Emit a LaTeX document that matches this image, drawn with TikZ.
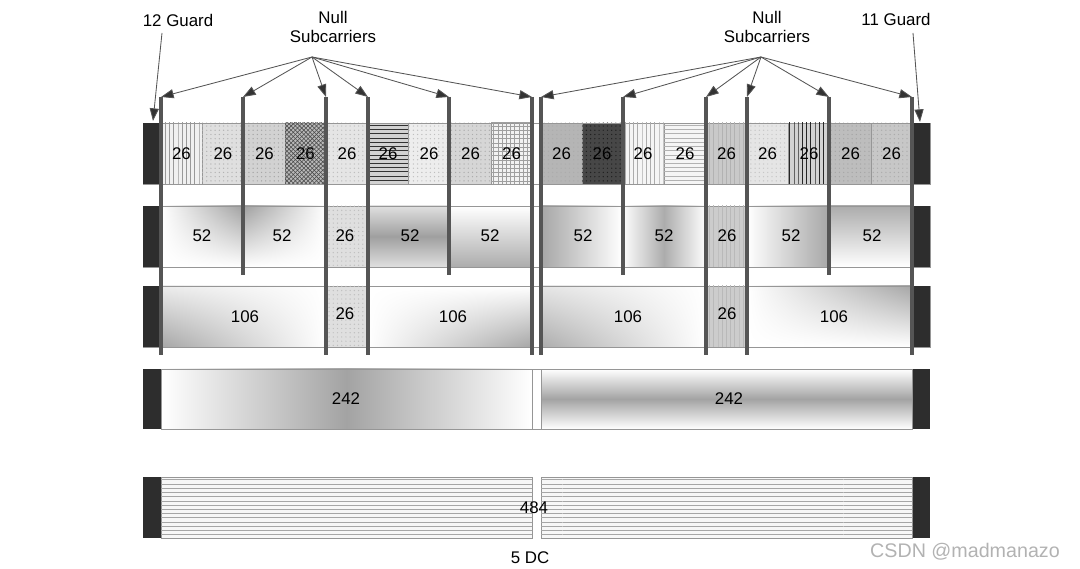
\documentclass[tikz,border=0pt]{standalone}
\usepackage{fontspec}
\setmainfont{Liberation Sans}
\usetikzlibrary{arrows.meta, patterns, shadings}
\definecolor{RUGuard}{RGB}{45, 45, 45}
\definecolor{RULine}{RGB}{85, 85, 85}
\definecolor{RUEdge}{RGB}{150, 150, 150}

\tikzset{
  ru/.style={draw=RUEdge, line width=0.5pt},
  guard/.style={fill=RUGuard},
  nullline/.style={draw=RULine, line width=3pt},
  nullarrow/.style={draw=RULine, line width=0.6pt, -{Triangle[length=9pt, width=6.5pt, fill=black!80]}},
  lbl/.style={font=\fontsize{12}{13.5}\selectfont, inner sep=1pt},
}

\begin{document}
\begin{tikzpicture}[x=0.025cm, y=-0.025cm]
  \useasboundingbox (0,0) rectangle (1080,569);

  % row frames and guard bands
  \foreach \ya/\yb in {123/184, 206/267, 286/347}
    \draw[ru] (143,\ya) rectangle (930,\yb);
  \foreach \ya/\yb in {123/184, 206/267, 286/347, 369/429, 477/538} {
    \fill[guard] (143,\ya) rectangle (161,\yb);
    \fill[guard] (912,\ya) rectangle (930,\yb);
  }

  % 26-tone RUs
  \foreach \xa/\xb/\fcol/\pat/\pcol [count=\i] in {
      161/202/gray!12/vertical lines/gray!80,
      202/244/gray!25/dots/gray!60,
      244/285/gray!35/dots/gray!70,
      285/326/gray!55/crosshatch/black!70,
      326/368/gray!20/dots/gray!50,
      368/408/gray!35/horizontal lines/black!80,
      408/450/gray!14/dots/gray!50,
      450/491/gray!32/dots/gray!65,
      491/532/gray!10/grid/gray!75,
      541/582/gray!58/dots/gray!65,
      582/622/black!72/dots/black!88,
      622/664/gray!8/vertical lines/gray!65,
      664/706/gray!8/horizontal lines/gray!60,
      706/747/gray!42/vertical lines/gray!60,
      747/788/gray!20/dots/gray!45,
      788/830/gray!35/vertical lines/black!85,
      830/871/gray!52/dots/gray!70,
      871/912/gray!44/dots/gray!65}
    \filldraw[ru, fill=\fcol, postaction={pattern=\pat, pattern color=\pcol}]
      (\xa,123) rectangle (\xb,184) node[lbl] (s\i) at ({(\xa+\xb)/2},154) {26};

  % 52-tone RUs
  \shade[ru, upper right=gray!75, upper left=white, lower left=white, lower right=white] (161,206) rectangle (244,267);
  \shade[ru, upper left=gray!75, upper right=white, lower left=white, lower right=white] (244,206) rectangle (326,267);
  \filldraw[ru, fill=gray!25, postaction={pattern=dots, pattern color=gray!50}] (326,206) rectangle (368,267);
  \shade[ru, top color=gray!25, bottom color=gray!25, middle color=gray!75] (368,206) rectangle (450,267);
  \shade[ru, top color=white, bottom color=gray!65] (450,206) rectangle (532,267);
  \shade[ru, left color=gray!70, right color=white] (541,206) rectangle (622,267);
  \shade[ru, left color=white, right color=white, middle color=gray!65] (622,206) rectangle (706,267);
  \filldraw[ru, fill=gray!40, postaction={pattern=vertical lines, pattern color=gray!55}] (706,206) rectangle (747,267);
  \shade[ru, left color=white, right color=gray!70] (747,206) rectangle (830,267);
  \shade[ru, top color=gray!65, bottom color=white] (830,206) rectangle (912,267);
  \foreach \x/\t [count=\i] in {202/52, 282/52, 345/26, 410/52, 490/52, 583/52, 664/52, 727/26, 791/52, 872/52}
    \node[lbl] (d\i) at (\x,236) {\t};

  % 106-tone RUs
  \shade[ru, lower left=gray!70, upper left=gray!15, upper right=white, lower right=white] (161,286) rectangle (326,347);
  \filldraw[ru, fill=gray!25, postaction={pattern=dots, pattern color=gray!50}] (326,286) rectangle (368,347);
  \shade[ru, lower right=gray!70, upper left=white, upper right=white, lower left=white] (368,286) rectangle (532,347);
  \shade[ru, lower left=gray!65, upper left=gray!20, upper right=white, lower right=white] (541,286) rectangle (706,347);
  \filldraw[ru, fill=gray!40, postaction={pattern=vertical lines, pattern color=gray!55}] (706,286) rectangle (747,347);
  \shade[ru, upper right=gray!70, upper left=white, lower left=white, lower right=white] (747,286) rectangle (912,347);
  \foreach \x/\y/\t [count=\i] in {245/317/106, 345/314/26, 453/317/106, 628/317/106, 727/314/26, 834/317/106}
    \node[lbl] (h\i) at (\x,\y) {\t};

  % 242-tone RUs
  \shade[ru, left color=white, right color=white, middle color=gray!72] (161,369) rectangle (532,429);
  \draw[ru, fill=white] (532,369) rectangle (541,429);
  \shade[ru, top color=white, bottom color=white, middle color=gray!72] (541,369) rectangle (912,429);
  \node[lbl] (q1) at (346,399) {242};
  \node[lbl] (q2) at (729,399) {242};

  % 484-tone RU
  \filldraw[ru, fill=gray!6, postaction={pattern=horizontal lines, pattern color=gray!70}] (161,477) rectangle (532,538);
  \filldraw[ru, fill=gray!6, postaction={pattern=horizontal lines, pattern color=gray!70}] (541,477) rectangle (912,538);
  \node[lbl] (full) at (534,508) {484};
  \node[lbl] (dc) at (530,558) {5 DC};

  % null subcarrier markers
  \foreach \x/\yb [count=\i] in {161/355, 243/275, 326/355, 368/355, 449/275, 532/355,
                                  541/355, 623/275, 706/355, 747/355, 829/275, 912/355}
    \draw[nullline] (\x,97) coordinate (n\i) -- (\x,\yb);

  \node[lbl, align=center] (nullL) at (333,27) {Null\\Subcarriers};
  \node[lbl, align=center] (nullR) at (767,27) {Null\\Subcarriers};
  \coordinate (fanL) at (312,57);
  \coordinate (fanR) at (761,57);
  \foreach \i in {1,...,6}
    \draw[nullarrow] (fanL) -- (n\i);
  \foreach \i in {7,...,12}
    \draw[nullarrow] (fanR) -- (n\i);

  % guard labels
  \node[lbl] (gl) at (178,20) {12 Guard};
  \node[lbl] (gr) at (896,19) {11 Guard};
  \coordinate (glTail) at (162,33);
  \coordinate (glTip) at (153,121);
  \coordinate (grTail) at (913,33);
  \coordinate (grTip) at (920,122);
  \draw[nullarrow] (glTail) -- (glTip);
  \draw[nullarrow] (grTail) -- (grTip);

  \node[font=\fontsize{14}{16}\selectfont, text=gray!60] (mark) at (965,552) {CSDN @madmanazo};
\end{tikzpicture}
\end{document}
